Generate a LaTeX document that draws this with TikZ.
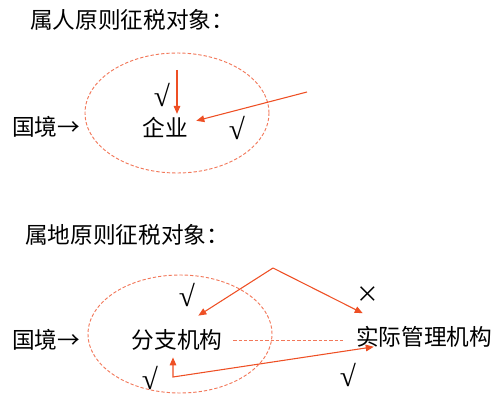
\documentclass[tikz,border=0pt]{standalone}
\usepackage{fontspec}
\setmainfont{Noto Sans CJK SC}
\newfontfamily\tickfont{Liberation Serif}
\usetikzlibrary{arrows.meta}
\definecolor{taxred}{HTML}{EE4F24}
\definecolor{rimred}{HTML}{F2785A}
\tikzstyle{arrow} = [line width=0.8pt,->,>={Triangle[length=6pt,width=5pt]},draw=taxred]
\tikzstyle{word} = [inner sep=0pt, font=\fontsize{17}{20}\selectfont]
\tikzstyle{okmark} = [inner sep=0pt, font=\fontsize{22}{24}\tickfont]
\tikzstyle{rim} = [draw=rimred, line width=0.7pt, dash pattern=on 2.5pt off 1.5pt]

\begin{document}
\begin{tikzpicture}[x=0.75pt,y=-0.75pt]
        \useasboundingbox (0,0) rectangle (500,403);
        % 属人原则
        \node (titleA) [word, anchor=west] at (30,20) {属人原则征税对象：};
        \draw [rim] (177,113) ellipse [x radius=69pt, y radius=45pt];
        \node (borderA) [word, anchor=west] at (12,127) {国境→};
        \node (qiye) [word] at (165,127) {企业};
        \node (okA1) [okmark] at (162,95) {√};
        \node (okA2) [okmark] at (237,128) {√};
        \coordinate (topA) at (177,70);
        \coordinate (farA) at (307,92);
        \draw [arrow, shorten >=2pt] (topA) -- (topA |- qiye.north);
        \draw [arrow, shorten >=6.5pt] (farA) -- (qiye.10);
        % 属地原则
        \node (titleB) [word, anchor=west] at (25,235) {属地原则征税对象：};
        \draw [rim] (180,334) ellipse [x radius=69pt, y radius=44.25pt];
        \node (borderB) [word, anchor=west] at (12,340) {国境→};
        \node (fenzhi) [word] at (177,340) {分支机构};
        \node (shiji) [word] at (424,337) {实际管理机构};
        \node (okB1) [okmark] at (187,295) {√};
        \node (okB2) [okmark] at (150,378) {√};
        \node (okB3) [okmark] at (348,375) {√};
        \node (noB) [word] at (368,295) {×};
        \coordinate (topB) at (273,268);
        \coordinate (baseB) at (173,377);
        \draw [arrow, shorten >=19pt] (topB) -- (fenzhi.north);
        \draw [arrow] (topB) -- ([shift={(7,-13)}]shiji.north west);
        \draw [rim, shorten <=8pt, shorten >=9pt] (fenzhi.east) -- (fenzhi.east -| shiji.west);
        \draw [arrow, <->] ([shift={(-4,6.7)}]fenzhi.south) -- (baseB) -- ([shift={(18,-1)}]shiji.south west);
\end{tikzpicture}
\end{document}
